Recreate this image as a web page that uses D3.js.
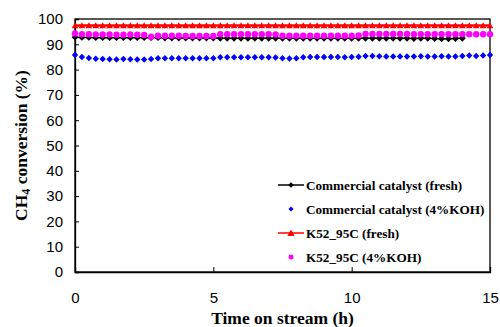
<!DOCTYPE html>
<html>
<head>
<meta charset="utf-8">
<script src="https://cdn.jsdelivr.net/npm/d3@7"></script>
<style>
  html, body { margin: 0; padding: 0; background: #fff; }
  svg { display: block; }
  .tick text { font-family: "Liberation Sans", Arial, sans-serif; font-size: 15px; fill: #000; }
  .title { font-family: "Liberation Serif", "Times New Roman", serif; font-weight: bold; fill: #000; }
  .leg { font-family: "Liberation Serif", "Times New Roman", serif; font-weight: bold; font-size: 13.2px; fill: #000; }
</style>
</head>
<body>
<svg id="chart" width="500" height="327"></svg>
<script>
// Sampling times (h), every 15 min
const timeFull = [0,0.25,0.5,0.75,1,1.25,1.5,1.75,2,2.25,2.5,2.75,3,3.25,3.5,3.75,4,4.25,4.5,4.75,5,5.25,5.5,5.75,6,6.25,6.5,6.75,7,7.25,7.5,7.75,8,8.25,8.5,8.75,9,9.25,9.5,9.75,10,10.25,10.5,10.75,11,11.25,11.5,11.75,12,12.25,12.5,12.75,13,13.25,13.5,13.75,14,14.25,14.5,14.75,15];
const timeShort = timeFull.slice(0, 57); // commercial fresh run ends at 14 h

// CH4 conversion (%)
const commercialFresh = [92.8,92.7,92.7,92.6,92.6,92.6,92.6,92.6,92.6,92.6,92.6,92.6,92.6,92.5,92.5,92.5,92.5,92.5,92.5,92.5,92.5,92.4,92.4,92.4,92.4,92.4,92.4,92.4,92.4,92.4,92.4,92.4,92.4,92.4,92.4,92.4,92.4,92.4,92.4,92.4,92.4,92.4,92.4,92.4,92.4,92.4,92.4,92.4,92.4,92.3,92.4,92.4,92.3,92.2,92.2,92.3,92.4];
const commercialKOH = [85.8,85.0,84.6,84.3,84.2,84.1,84.0,84.2,84.1,84.0,84.0,84.2,84.5,84.5,84.5,84.5,84.5,84.5,84.5,84.5,84.5,84.9,84.9,84.9,84.9,84.9,84.9,84.9,84.9,84.8,84.5,84.4,84.5,84.9,85.0,85.0,85.0,85.0,85.0,84.9,85.0,85.1,85.4,85.4,85.3,85.2,85.2,85.2,85.2,85.2,85.3,85.2,85.2,85.3,85.2,85.2,85.4,85.6,85.4,85.6,85.8];
const k52Fresh = [97.4,97.4,97.4,97.4,97.4,97.4,97.4,97.4,97.4,97.4,97.4,97.4,97.4,97.4,97.4,97.4,97.4,97.4,97.4,97.4,97.4,97.4,97.4,97.4,97.4,97.4,97.4,97.4,97.4,97.4,97.4,97.4,97.4,97.4,97.4,97.4,97.4,97.4,97.4,97.4,97.4,97.4,97.4,97.4,97.4,97.4,97.4,97.4,97.4,97.4,97.4,97.4,97.4,97.4,97.4,97.4,97.4,97.4,97.4,97.4,97.4];
const k52KOH = [94.3,94.0,94.0,93.9,93.9,93.9,93.8,93.8,93.9,93.8,93.7,93.0,93.4,93.4,93.4,93.4,93.3,93.3,93.3,93.3,93.3,94.0,94.0,94.0,94.0,94.0,94.0,94.0,94.0,93.9,93.4,93.4,93.4,93.4,93.4,93.4,93.4,93.4,93.4,93.4,93.4,93.5,94.1,94.1,94.1,94.1,94.1,94.1,94.1,94.0,94.0,94.0,94.0,94.0,94.0,94.0,94.0,94.0,94.0,94.0,94.0];

const xTicks = [0, 5, 10, 15];
const yTicks = [0, 10, 20, 30, 40, 50, 60, 70, 80, 90, 100];
const legendLabels = ["Commercial catalyst (fresh)", "Commercial catalyst (4%KOH)", "K52_95C (fresh)", "K52_95C (4%KOH)"];

const svg = d3.select("#chart");
const m = { left: 75, right: 10, top: 19, bottom: 55 };
const W = 500, H = 327;
const x = d3.scaleLinear().domain([0, 15]).range([m.left, W - m.right]);
const y = d3.scaleLinear().domain([0, 100]).range([H - m.bottom, m.top]);

// frame
svg.append("rect")
  .attr("x", x(0)).attr("y", y(100))
  .attr("width", x(15) - x(0)).attr("height", y(0) - y(100))
  .attr("fill", "none").attr("stroke", "#000").attr("stroke-width", 1.3);

// axes with inward ticks
const xAxis = svg.append("g").attr("transform", `translate(0,${y(0)})`)
  .call(d3.axisBottom(x).tickValues(xTicks).tickSize(-5).tickPadding(20).tickFormat(d3.format("d")));
const yAxis = svg.append("g").attr("transform", `translate(${x(0)},0)`)
  .call(d3.axisLeft(y).tickValues(yTicks).tickSize(-4).tickPadding(12).tickFormat(d3.format("d")));
[xAxis, yAxis].forEach(g => {
  g.select(".domain").attr("stroke", "#000").attr("stroke-width", 1.3);
  g.selectAll(".tick line").attr("stroke", "#000").attr("stroke-width", 1);
});

const plot = svg.append("g");
// marker shapes: r is the half-width of the marker
const shapes = {
  diamond: r => `M0,${-r}L${r},0L0,${r}L${-r},0Z`,
  triangle: r => `M0,${-r}L${r},${r * 0.8}L${-r},${r * 0.8}Z`,
  circle: r => d3.symbol().type(d3.symbolCircle).size(Math.PI * r * r)()
};

function series(t, v, opts) {
  const pts = t.map((d, i) => [d, v[i]]);
  if (opts.line) {
    plot.append("path").datum(pts)
      .attr("fill", "none").attr("stroke", opts.color).attr("stroke-width", opts.line)
      .attr("d", d3.line().x(d => x(d[0])).y(d => y(d[1])));
  }
  plot.append("g").selectAll("path").data(pts).join("path")
    .attr("transform", d => `translate(${x(d[0])},${y(d[1])})`)
    .attr("d", shapes[opts.shape](opts.r))
    .attr("fill", opts.color);
}

series(timeShort, commercialFresh, { color: "#000", shape: "diamond", r: 3.4, line: 1.5 });
series(timeFull, commercialKOH, { color: "#0000ff", shape: "diamond", r: 3.2 });
series(timeFull, k52Fresh, { color: "#ff0000", shape: "triangle", r: 3.3, line: 2.5 });
series(timeFull, k52KOH, { color: "#ff00ff", shape: "circle", r: 3.2 });

// legend
const legStyles = [
  { color: "#000", shape: "diamond", r: 2.8, line: true },
  { color: "#0000ff", shape: "diamond", r: 2.6, line: false },
  { color: "#ff0000", shape: "triangle", r: 3.6, line: true },
  { color: "#ff00ff", shape: "circle", r: 2.5, line: false }
];
const legY = [185, 209, 233, 257];
const leg = svg.append("g");
legendLabels.forEach((lab, i) => {
  const s = legStyles[i];
  if (s.line) {
    leg.append("line").attr("x1", 278).attr("x2", 304).attr("y1", legY[i]).attr("y2", legY[i])
      .attr("stroke", s.color).attr("stroke-width", 1.5);
  }
  leg.append("path").attr("transform", `translate(291,${legY[i]})`).attr("d", shapes[s.shape](s.r)).attr("fill", s.color);
  leg.append("text").attr("class", "leg").attr("x", 306).attr("y", legY[i]).attr("dy", "0.35em").text(lab);
});

// axis titles
svg.append("text").attr("class", "title").attr("x", (x(0) + x(15)) / 2).attr("y", 324)
  .attr("text-anchor", "middle").style("font-size", "17.5px").text("Time on stream (h)");
const yt = svg.append("text").attr("class", "title")
  .attr("transform", `translate(27,${(y(0) + y(100)) / 2}) rotate(-90)`)
  .attr("text-anchor", "middle").style("font-size", "17.5px");
yt.append("tspan").text("CH");
yt.append("tspan").style("font-size", "12px").attr("dy", 3).text("4");
yt.append("tspan").attr("dy", -3).text(" conversion (%)");
</script>
</body>
</html>
